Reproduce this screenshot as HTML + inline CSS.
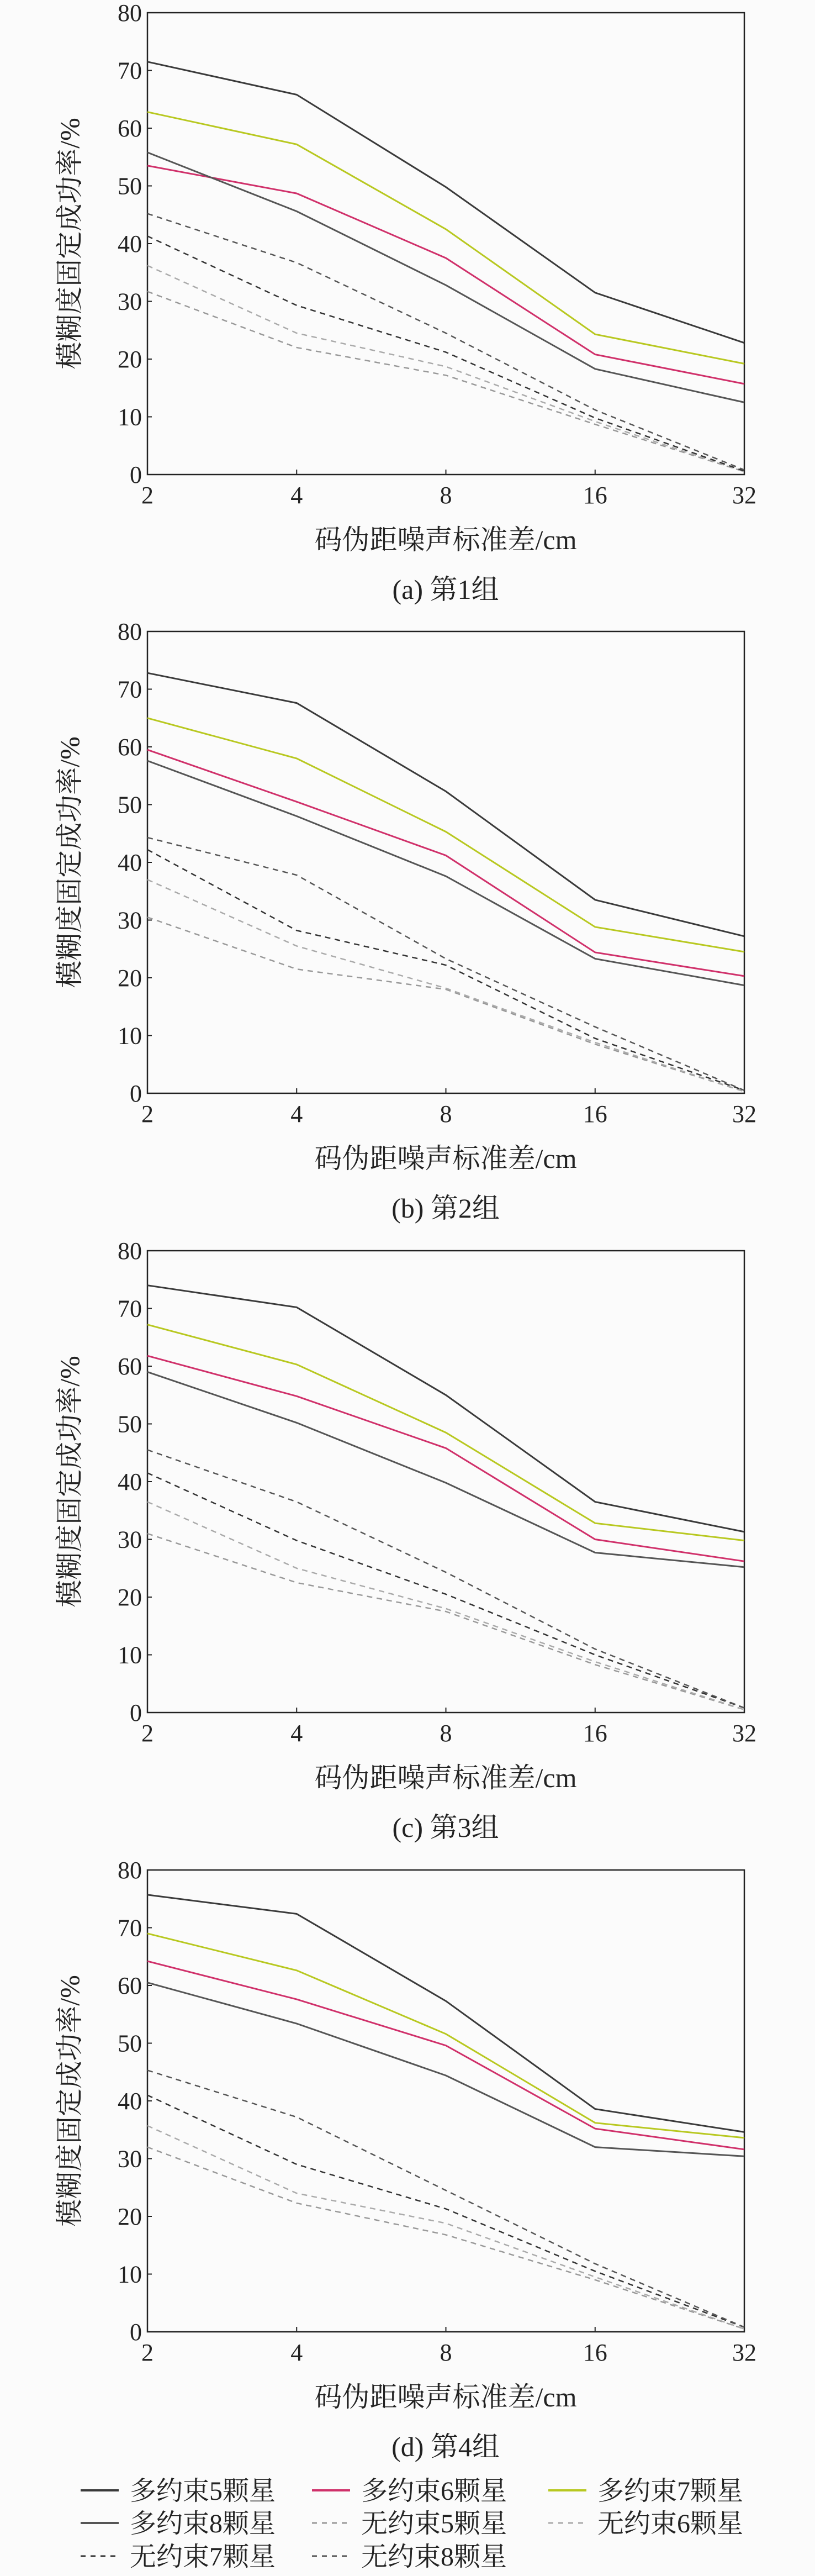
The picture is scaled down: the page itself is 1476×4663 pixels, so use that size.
<!DOCTYPE html>
<html><head><meta charset="utf-8"><style>
html,body{margin:0;padding:0;background:#fbfbfb;}
svg{display:block;}
text{font-family:"Liberation Serif","Noto Serif CJK SC",serif;fill:#222;}
</style></head><body>
<svg id="c" width="1476" height="4663" viewBox="0 0 1476 4663" xmlns="http://www.w3.org/2000/svg">
<rect width="1476" height="4663" fill="#fbfbfb"/>
</svg>
<script>
const categories = ["2","4","8","16","32"];
const yTicks = [0,10,20,30,40,50,60,70,80];
const captions = ["(a) 第1组","(b) 第2组","(c) 第3组","(d) 第4组"];
const seriesNames = ["多约束5颗星","多约束6颗星","多约束7颗星","多约束8颗星","无约束5颗星","无约束6颗星","无约束7颗星","无约束8颗星"];
// group 1
const g1_m5 = [71.5,65.8,49.8,31.5,22.8];
const g1_m6 = [53.5,48.7,37.5,20.8,15.7];
const g1_m7 = [62.8,57.2,42.5,24.3,19.2];
const g1_m8 = [55.8,45.6,32.8,18.3,12.5];
const g1_n5 = [31.7,22.0,17.2,8.7,0.5];
const g1_n6 = [36.2,24.5,18.7,9.2,0.5];
const g1_n7 = [41.3,29.3,21.2,9.8,0.6];
const g1_n8 = [45.2,36.7,24.5,11.2,0.8];
// group 2
const g2_m5 = [72.8,67.6,52.3,33.5,27.2];
const g2_m6 = [59.5,50.5,41.2,24.4,20.3];
const g2_m7 = [65.0,58.0,45.3,28.8,24.5];
const g2_m8 = [57.6,48.0,37.6,23.3,18.7];
const g2_n5 = [30.5,21.5,18.0,8.5,0.3];
const g2_n6 = [37.0,25.5,18.2,8.8,0.3];
const g2_n7 = [42.2,28.2,22.2,9.5,0.5];
const g2_n8 = [44.3,37.8,23.3,11.5,0.5];
// group 3
const g3_m5 = [74.0,70.2,55.0,36.5,31.3];
const g3_m6 = [61.8,54.8,45.8,30.0,26.2];
const g3_m7 = [67.2,60.3,48.5,32.8,29.8];
const g3_m8 = [59.0,50.2,39.8,27.7,25.2];
const g3_n5 = [31.0,22.5,17.5,8.3,0.5];
const g3_n6 = [36.5,25.0,18.0,8.8,0.5];
const g3_n7 = [41.5,29.8,20.5,10.0,0.8];
const g3_n8 = [45.5,36.5,24.3,11.0,0.8];
// group 4
const g4_m5 = [75.7,72.4,57.3,38.6,34.6];
const g4_m6 = [64.2,57.6,49.6,35.2,31.6];
const g4_m7 = [69.0,62.6,51.6,36.2,33.6];
const g4_m8 = [60.5,53.4,44.4,32.0,30.4];
const g4_n5 = [32.0,22.3,16.8,9.0,0.5];
const g4_n6 = [35.7,24.0,18.8,9.5,0.5];
const g4_n7 = [41.0,29.0,21.3,10.5,0.8];
const g4_n8 = [45.3,37.2,24.5,11.8,0.8];

const groups = [
  [g1_m5,g1_m6,g1_m7,g1_m8,g1_n5,g1_n6,g1_n7,g1_n8],
  [g2_m5,g2_m6,g2_m7,g2_m8,g2_n5,g2_n6,g2_n7,g2_n8],
  [g3_m5,g3_m6,g3_m7,g3_m8,g3_n5,g3_n6,g3_n7,g3_n8],
  [g4_m5,g4_m6,g4_m7,g4_m8,g4_n5,g4_n6,g4_n7,g4_n8]
];
const styles = [
  {c:"#3a3a3a",d:null,w:3},{c:"#d0306a",d:null,w:3},{c:"#b8c820",d:null,w:3},{c:"#555555",d:null,w:3},
  {c:"#999999",d:"10,8",w:2.5},{c:"#aaaaaa",d:"10,8",w:2.5},{c:"#333333",d:"10,8",w:2.5},{c:"#555555",d:"10,8",w:2.5}
];
const NS="http://www.w3.org/2000/svg";
const svg=document.getElementById('c');
function mk(tag,attrs,parent){const e=document.createElementNS(NS,tag);for(const k in attrs)e.setAttribute(k,attrs[k]);(parent||svg).appendChild(e);return e;}
const L=267,R=1348,H=836;
const tops=[23,1143,2264,3385];
groups.forEach((grp,gi)=>{
  const T=tops[gi],B=T+H;
  const g=mk('g',{});
  
  
  const xs=i=>L+(R-L)*i/(categories.length-1);
  const ys=v=>B-(v/80)*H;
  const frame=mk('rect',{x:L,y:T,width:R-L,height:H,fill:'none',stroke:'#222','stroke-width':2.5},g);
  
  
  yTicks.forEach(t=>{
    const y=ys(t);
    mk('line',{x1:L,x2:L+8,y1:y,y2:y,stroke:'#222','stroke-width':2},g);
    const tx=mk('text',{x:L-10,y:y+15,'text-anchor':'end','font-size':44},g);
    tx.textContent=t;
    
    
  });
  categories.forEach((c,i)=>{
    const x=xs(i);
    mk('line',{x1:x,x2:x,y1:B,y2:B-9,stroke:'#222','stroke-width':2},g);
    const tx=mk('text',{x:x,y:B+52,'text-anchor':'middle','font-size':44},g);
    tx.textContent=c;
    
    
  });
  grp.forEach((vals,si)=>{
    const s=styles[si];
    const pts=vals.map((v,i)=>xs(i).toFixed(1)+','+ys(v).toFixed(1)).join(' ');
    const pl=mk('polyline',{points:pts,fill:'none',stroke:s.c,'stroke-width':s.w},g);
    if(s.d)pl.setAttribute('stroke-dasharray',s.d);
    
    
  });
  const xl=mk('text',{x:807,y:B+135,'text-anchor':'middle','font-size':50},g);
  xl.textContent='码伪距噪声标准差/cm';
  
  
  const yl=mk('text',{x:0,y:0,'text-anchor':'middle','font-size':50,transform:'translate(143,'+(T+H/2)+') rotate(-90)'},g);
  yl.textContent='模糊度固定成功率/%';
  
  
  const cap=mk('text',{x:807,y:B+225,'text-anchor':'middle','font-size':50},g);
  cap.textContent=captions[gi];
  
  
});
// legend
const colX=[146,565,993];
const rowY=[4508,4567,4627];
seriesNames.forEach((n,i)=>{
  const order=[0,1,2,3,4,5,6,7];
  const k=order[i];
  const col=k%3,row=Math.floor(k/3);
  const s=styles[i];
  const x=colX[col],y=rowY[row];
  const lg=mk('g',{});
  
  
  const ln=mk('line',{x1:x,x2:x+69,y1:y,y2:y,stroke:s.c,'stroke-width':s.d?3:4},lg);
  if(s.d)ln.setAttribute('stroke-dasharray','9,9');
  const t=mk('text',{x:x+89,y:y+17,'font-size':48},lg);
  t.textContent=n;
});
</script>
</body></html>
